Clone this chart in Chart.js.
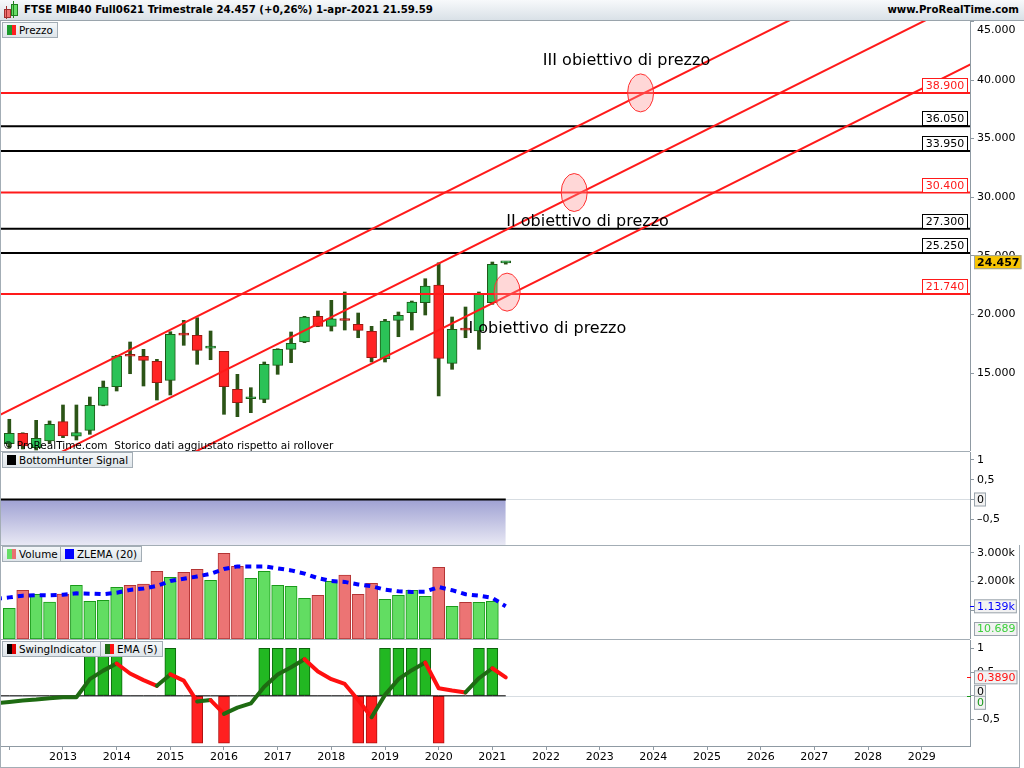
<!DOCTYPE html>
<html>
<head>
<meta charset="utf-8">
<script src="https://cdn.jsdelivr.net/npm/chart.js"></script>
<style>
  body { margin: 0; width: 1024px; height: 768px; overflow: hidden; background: #fff; position: relative; font-family: 'DejaVu Sans', sans-serif; }
  canvas { position: absolute; left: 0; }
  #hdr { position: absolute; left: 0; top: 0; width: 1024px; height: 21px; box-sizing: border-box; border-bottom: 1px solid #9aa4ac;
         background: linear-gradient(#f7f9fb, #d9e1e7); font-size: 10.2px; font-weight: bold; line-height: 20px; }
  #hdr .t { position: absolute; left: 24px; top: 0; }
  #hdr .s { position: absolute; right: 5px; top: 0; }
  .ic { position: absolute; }
  .tag { position: absolute; height: 16px; box-sizing: border-box; border: 1px solid #a3adb5; background: linear-gradient(#f4f7f9, #dfe5ea);
         font-size: 10.4px; line-height: 14px; padding: 0 4px 0 16px; white-space: nowrap; }
  .tag i { position: absolute; left: 4px; top: 2px; width: 9px; height: 10px; }
  .hl { position: absolute; background: #a3adb5; }
  #copy { position: absolute; left: 3px; top: 439px; font-size: 10.5px; color: #000; }
</style>
</head>
<body>
<div id="hdr">
  <span class="ic" style="left:4px;top:9px;width:5px;height:7px;background:#f07070;border:1px solid #a03030"></span>
  <span class="ic" style="left:6px;top:6px;width:1px;height:13px;background:#a03030"></span>
  <span class="ic" style="left:11px;top:4px;width:5px;height:10px;background:#66dd66;border:1px solid #208020"></span>
  <span class="ic" style="left:13px;top:1px;width:1px;height:17px;background:#208020"></span>
  <span class="t">FTSE MIB40 Full0621 Trimestrale 24.457 (+0,26%) 1-apr-2021 21.59.59</span>
  <span class="s">www.ProRealTime.com</span>
</div>

<canvas id="price" width="1024" height="430" style="top:21px"></canvas>
<canvas id="hunter" width="1024" height="93" style="top:452px"></canvas>
<canvas id="vol" width="1024" height="94" style="top:545px"></canvas>
<canvas id="swing" width="1024" height="128" style="top:640px"></canvas>

<div class="hl" style="left:0;top:451px;width:970px;height:1px"></div>
<div class="hl" style="left:0;top:545px;width:970px;height:1px"></div>
<div class="hl" style="left:0;top:639px;width:970px;height:1px"></div>
<div class="hl" style="left:0;top:767px;width:1020px;height:1px"></div>
<div class="hl" style="left:0;top:21px;width:1px;height:747px"></div>
<div class="hl" style="left:1019px;top:545px;width:1px;height:223px"></div>

<div id="copy">© ProRealTime.com&nbsp; Storico dati aggiustato rispetto ai rollover</div>

<div class="tag" style="left:2px;top:22px"><i style="background:linear-gradient(90deg,#1c9a2c 50%,#ff2020 50%)"></i>Prezzo</div>
<div class="tag" style="left:2px;top:452px"><i style="background:#000"></i>BottomHunter Signal</div>
<div class="tag" style="left:2px;top:546px"><i style="background:linear-gradient(90deg,#66dd66 50%,#e87070 50%)"></i>Volume</div>
<div class="tag" style="left:60px;top:546px"><i style="background:#0000ff"></i>ZLEMA (20)</div>
<div class="tag" style="left:2px;top:641px"><i style="background:linear-gradient(90deg,#000 50%,#e00000 50%)"></i>SwingIndicator</div>
<div class="tag" style="left:100px;top:641px"><i style="background:linear-gradient(90deg,#1e6b12 50%,#ff1010 50%)"></i>EMA (5)</div>

<script>
// Trimestrale FTSE MIB future, dal 2012 T1 al 2021 T2
const quarters = [
  '2012 T1', '2012 T2', '2012 T3', '2012 T4', '2013 T1', '2013 T2', '2013 T3', '2013 T4',
  '2014 T1', '2014 T2', '2014 T3', '2014 T4', '2015 T1', '2015 T2', '2015 T3', '2015 T4',
  '2016 T1', '2016 T2', '2016 T3', '2016 T4', '2017 T1', '2017 T2', '2017 T3', '2017 T4',
  '2018 T1', '2018 T2', '2018 T3', '2018 T4', '2019 T1', '2019 T2', '2019 T3', '2019 T4',
  '2020 T1', '2020 T2', '2020 T3', '2020 T4', '2021 T1', '2021 T2',
];
const firstYear = 2012;

const open  = [8968, 9855, 8627, 9198, 10845, 9608, 10111, 12244, 13831, 16480, 16425, 15998, 14377, 18280, 18217, 17120, 16851, 13609, 12800, 12756,
               15657, 17022, 17645, 19838, 18984, 19520, 19155, 18558, 16220, 19496, 20145, 20998, 22508, 15828, 18700, 18583, 20998, 24393];
const high  = [11050, 9900, 10964, 10905, 12270, 12270, 12952, 14317, 16510, 17645, 17022, 16169, 18524, 19496, 19718, 18583, 16851, 14889, 13746, 15939,
               17073, 18498, 19838, 20290, 21203, 21911, 20119, 18984, 19582, 20205, 21143, 23046, 24411, 19778, 20631, 21911, 24471, 24490];
const low   = [8600, 8520, 8430, 9028, 9480, 9284, 9770, 12200, 13464, 14940, 13891, 12696, 13123, 17363, 15742, 16135, 11476, 11272, 11613, 12466,
               14889, 15879, 17585, 18950, 18583, 18669, 18012, 15939, 15939, 18097, 18669, 19949, 13038, 15316, 18012, 17022, 20861, 24290];
const close = [9855, 8772, 9429, 10623, 9625, 9923, 12244, 13806, 16450, 16430, 16084, 14172, 18302, 18230, 16937, 17170, 13831, 12466, 12850, 15742,
               17022, 17534, 19778, 18984, 19633, 19480, 18643, 16305, 19437, 19923, 21058, 22423, 16254, 18728, 18660, 21800, 24274, 24457];

// l'ultimo trimestre e' appena iniziato: il suo volume compare solo nell'etichetta
const volume = [1070000, 1697000, 1557000, 1290000, 1568000, 1871000, 1313000, 1348000, 1801000, 1871000, 1916000, 2358000, 2149000,
                2323000, 2428000, 2044000, 2986000, 2532000, 2114000, 2358000, 1871000, 1836000, 1417000, 1522000, 2009000, 2230000,
                1557000, 1940000, 1383000, 1522000, 1697000, 1487000, 2498000, 1139000, 1278000, 1278000, 1313000, 10689];

// indicatori: il primo valore e' il trimestre 2011 T4, al bordo sinistro
const zlema = [1400000, 1450000, 1510000, 1530000, 1520000, 1545000, 1590000, 1580000, 1560000, 1610000, 1710000, 1760000, 1850000,
               2020000, 2100000, 2180000, 2270000, 2440000, 2530000, 2530000, 2530000, 2460000, 2390000, 2280000, 2120000, 2020000,
               1990000, 1900000, 1840000, 1720000, 1660000, 1640000, 1650000, 1810000, 1700000, 1560000, 1510000, 1430000, 1139000];
const ema5 = [-0.16, -0.13, -0.10, -0.08, -0.05, -0.03, -0.03, 0.35, 0.53, 0.68, 0.47, 0.33, 0.21, 0.45, 0.32, -0.12, -0.09, -0.38, -0.25,
              -0.16, 0.19, 0.45, 0.60, 0.77, 0.51, 0.35, 0.25, -0.09, -0.45, 0.02, 0.35, 0.54, 0.70, 0.16, 0.11, 0.07, 0.37, 0.58, 0.389];
const bottomHunter = [0, 0, 0, 0, 0, 0, 0, 0, 0, 0, 0, 0, 0, 0, 0, 0, 0, 0, 0, 0, 0, 0, 0, 0, 0, 0, 0, 0, 0, 0, 0, 0, 0, 0, 0, 0, 0, 0, 0];
const swing = [0, 0, 0, 0, 0, 0, 1, 1, 1, 0, 0, 0, 1, 0, -1, 0, -1, 0, 0, 1, 1, 1, 1, 0, 0, 0, -1, -1, 1, 1, 1, 1, -1, 0, 0, 1, 1, 0];

// livelli e canale rialzista
const redLevels = [21740, 30400, 38900];
const blackLevels = [25250, 27300, 33950, 36050];
const channelFrom = [11258, 5465, -217];   // prezzo al trimestre -1
const channelTo = [53014, 47221, 41539];   // prezzo al trimestre 72

const targetQuarter = [37.1, 42.1, 47.05];
const targetPrice = [21900, 30400, 38900];
const noteText = ['I obiettivo di prezzo', 'II obiettivo di prezzo', 'III obiettivo di prezzo'];
const noteQuarter = [40.1, 43.1, 46.0];
const notePrice = [18800, 27930, 41660];

const priceTicks = [15000, 20000, 25000, 30000, 35000, 40000, 45000];
const volTicks = [1000000, 2000000, 3000000];
const oscTicks = [1, 0.5, 0, -0.5];

const GREEN = '#2bc257', RED = '#ff2424', WICK = '#2b5416';
const AXIS = '#8f9aa3';

const fmt = (n, d = 0) => {
  const p = Math.abs(n).toFixed(d).split('.');
  p[0] = p[0].replace(/\B(?=(\d{3})+(?!\d))/g, '.');
  return (n < 0 ? '–' : '') + p.join(',');
};

Chart.defaults.font.family = 'DejaVu Sans';
Chart.defaults.font.size = 11;
Chart.defaults.color = '#000';
Chart.defaults.animation = false;
Chart.defaults.events = [];
Chart.defaults.plugins.legend.display = false;
Chart.defaults.plugins.tooltip.enabled = false;

const idx = quarters.map((q, i) => i);
const indIdx = [-1, ...idx];
const up = idx.map((i) => close[i] >= open[i]);
const volIdx = idx.slice(0, -1);

const xAxis = (show) => ({
  type: 'linear', min: -0.62, max: 71.6, display: show, offset: false,
  afterBuildTicks: (s) => { s.ticks = []; for (let v = 0; v <= 68; v += 4) s.ticks.push({ value: v }); },
  afterFit: (s) => { if (show) s.height = 22; },
  grid: { drawOnChartArea: false, offset: false, tickLength: 4, color: AXIS },
  border: { color: AXIS },
  ticks: { padding: 1, callback: (v) => (v < 4 ? '' : String(firstYear + v / 4)) },
});

// gap: i tick troppo vicini al bordo alto li disegna il plugin
const yAxis = (min, max, ticks, label, gap = 0) => ({
  position: 'right', min, max,
  afterFit: (s) => { s.width = 54; s.paddingTop = 0; s.paddingBottom = 0; },
  afterBuildTicks: (s) => { s.ticks = ticks.filter((v) => v >= min && v <= max - gap).map((v) => ({ value: v })); },
  grid: { drawOnChartArea: false, tickLength: 4, color: AXIS },
  border: { color: AXIS },
  ticks: { padding: 3, callback: label },
});

// etichetta a destra dell'asse con valore corrente
function valueTag(ctx, x, y, text, color, bg, bold) {
  ctx.font = (bold ? 'bold ' : '') + '11px "DejaVu Sans"';
  const w = ctx.measureText(text).width + 5;
  ctx.fillStyle = bg;
  ctx.fillRect(x, y - 7, w, 14);
  ctx.strokeStyle = '#9aa4ac';
  ctx.lineWidth = 1;
  ctx.strokeRect(x + 0.5, y - 6.5, w - 1, 13);
  ctx.fillStyle = color;
  ctx.textAlign = 'left';
  ctx.textBaseline = 'middle';
  ctx.fillText(text, x + 3, y + 0.5);
}

const PMIN = 8345, PMAX = 45035, PGAP = 400;

const priceOverlay = {
  id: 'priceOverlay',
  afterDatasetsDraw(chart) {
    const { ctx, chartArea: a, scales: { x, y } } = chart;
    ctx.save();
    targetQuarter.forEach((q, k) => {
      ctx.beginPath();
      ctx.ellipse(x.getPixelForValue(q), y.getPixelForValue(targetPrice[k]), 13, 19, 0, 0, Math.PI * 2);
      ctx.fillStyle = 'rgba(255,140,140,0.35)';
      ctx.fill();
      ctx.strokeStyle = '#ff3030';
      ctx.lineWidth = 1;
      ctx.stroke();
    });
    ctx.font = '16px "DejaVu Sans"';
    ctx.fillStyle = '#000';
    ctx.textAlign = 'center';
    ctx.textBaseline = 'middle';
    noteText.forEach((t, k) => ctx.fillText(t, x.getPixelForValue(noteQuarter[k]), y.getPixelForValue(notePrice[k])));

    const box = (v, col) => {
      const py = Math.round(y.getPixelForValue(v));
      ctx.fillStyle = '#fff';
      ctx.fillRect(a.right - 48, py - 15, 46, 15);
      ctx.strokeStyle = col;
      ctx.lineWidth = 1;
      ctx.strokeRect(a.right - 47.5, py - 14.5, 45, 14);
      ctx.fillStyle = col;
      ctx.font = '11px "DejaVu Sans"';
      ctx.fillText(fmt(v), a.right - 25, py - 7);
    };
    redLevels.forEach((v) => box(v, '#ff1a1a'));
    blackLevels.forEach((v) => box(v, '#000'));
    ctx.restore();
  },
  afterDraw(chart) {
    const { ctx, chartArea: a, scales: { y } } = chart;
    ctx.save();
    priceTicks.filter((v) => v > PMAX - PGAP).forEach((v) => {
      ctx.font = '11px "DejaVu Sans"';
      ctx.fillStyle = '#000';
      ctx.textBaseline = 'middle';
      ctx.fillText(fmt(v), a.right + 7, a.top + 9);
      ctx.fillStyle = AXIS;
      ctx.fillRect(a.right, Math.round(y.getPixelForValue(v)), 4, 1);
    });
    valueTag(ctx, a.right + 4, y.getPixelForValue(close[close.length - 1]), fmt(close[close.length - 1]), '#000', '#f7c400', true);
    ctx.restore();
  },
};

new Chart(document.getElementById('price'), {
  type: 'bar',
  data: {
    datasets: [
      ...channelFrom.map((v, k) => ({
        type: 'line', data: [{ x: -1, y: v }, { x: 72, y: channelTo[k] }],
        borderColor: '#ff1a1a', borderWidth: 2, pointRadius: 0, order: 0,
      })),
      ...redLevels.map((v) => ({
        type: 'line', data: [{ x: -1, y: v }, { x: 72, y: v }],
        borderColor: '#ff1a1a', borderWidth: 2, pointRadius: 0, order: 0,
      })),
      ...blackLevels.map((v) => ({
        type: 'line', data: [{ x: -1, y: v }, { x: 72, y: v }],
        borderColor: '#000', borderWidth: 2, pointRadius: 0, order: 0,
      })),
      {
        data: idx.map((i) => ({ x: i, y: [open[i], close[i]] })),
        backgroundColor: idx.map((i) => (up[i] ? GREEN : RED)),
        borderColor: idx.map((i) => (up[i] ? '#1d5a17' : '#9a1a12')),
        borderWidth: 1, borderSkipped: false, barThickness: 10, minBarLength: 2, grouped: false, order: 1,
      },
      {
        data: idx.map((i) => ({ x: i, y: [low[i], high[i]] })),
        backgroundColor: WICK, borderWidth: 0, barThickness: 3, grouped: false, order: 2,
      },
    ],
  },
  options: {
    responsive: false,
    layout: { padding: { left: 1, top: 0, bottom: 0, right: 0 } },
    scales: { x: xAxis(false), y: yAxis(PMIN, PMAX, priceTicks, (v) => fmt(v), PGAP) },
  },
  plugins: [priceOverlay],
});

// linea dello zero grigia su tutta la larghezza
const zeroLine = {
  id: 'zeroLine',
  beforeDatasetsDraw(chart) {
    const { ctx, chartArea: a, scales: { y } } = chart;
    const py = Math.round(y.getPixelForValue(0)) + 0.5;
    ctx.save();
    ctx.strokeStyle = '#d7dde2';
    ctx.lineWidth = 1;
    ctx.beginPath();
    ctx.moveTo(a.left, py);
    ctx.lineTo(a.right, py);
    ctx.stroke();
    ctx.restore();
  },
};

new Chart(document.getElementById('hunter'), {
  type: 'line',
  data: {
    datasets: [{
      data: indIdx.map((i, k) => ({ x: i, y: bottomHunter[k] })),
      borderColor: '#000', borderWidth: 2, pointRadius: 0, fill: 'start',
      backgroundColor: (c) => {
        const { chart } = c;
        if (!chart.chartArea) return '#c0c0e0';
        const y0 = chart.scales.y.getPixelForValue(0);
        const g = chart.ctx.createLinearGradient(0, y0, 0, chart.chartArea.bottom);
        g.addColorStop(0, '#9fa1d3');
        g.addColorStop(1, '#e8e8f4');
        return g;
      },
    }],
  },
  options: {
    responsive: false,
    layout: { padding: { left: 1, top: 0, bottom: 0, right: 0 } },
    scales: { x: xAxis(false), y: yAxis(-1.15, 1.2, oscTicks, (v) => (v === 0 ? '' : fmt(v, v % 1 ? 1 : 0))) },
  },
  plugins: [zeroLine, {
    id: 'hunterTag',
    afterDraw(chart) {
      const { ctx, chartArea: a, scales: { y } } = chart;
      ctx.save();
      valueTag(ctx, a.right + 4, y.getPixelForValue(bottomHunter[bottomHunter.length - 1]), '0', '#000', '#f2f2f2', false);
      ctx.restore();
    },
  }],
});

new Chart(document.getElementById('vol'), {
  type: 'bar',
  data: {
    datasets: [
      {
        type: 'line', data: indIdx.map((i, k) => ({ x: i, y: zlema[k] })),
        borderColor: '#0000ff', borderWidth: 4, borderDash: [6, 5], pointRadius: 0, order: 0,
      },
      {
        data: volIdx.map((i) => ({ x: i, y: volume[i] })),
        backgroundColor: volIdx.map((i) => (up[i] ? '#62dd62' : '#ec7474')),
        borderColor: volIdx.map((i) => (up[i] ? '#1a9a1a' : '#b43434')),
        borderWidth: 1, borderSkipped: false, barThickness: 12, order: 1,
      },
    ],
  },
  options: {
    responsive: false,
    layout: { padding: { left: 1, top: 0, bottom: 0, right: 0 } },
    scales: { x: xAxis(false), y: yAxis(0, 3275000, volTicks, (v) => fmt(v / 1000) + 'k') },
  },
  plugins: [{
    id: 'volTags',
    afterDraw(chart) {
      const { ctx, chartArea: a, scales: { y } } = chart;
      ctx.save();
      const zy = y.getPixelForValue(zlema[zlema.length - 1]);
      ctx.fillStyle = '#0000ff';
      ctx.fillRect(a.right, Math.round(zy), 4, 1);
      valueTag(ctx, a.right + 4, zy, fmt(zlema[zlema.length - 1] / 1000) + 'k', '#0000ff', '#f2f2f2', false);
      const vy = Math.min(y.getPixelForValue(volume[volume.length - 1]), a.bottom - 10);
      valueTag(ctx, a.right + 4, vy, fmt(volume[volume.length - 1]), '#3ccf3c', '#f2f2f2', false);
      ctx.restore();
    },
  }],
});

new Chart(document.getElementById('swing'), {
  type: 'bar',
  data: {
    datasets: [
      {
        type: 'line', data: indIdx.map((i, k) => ({ x: i, y: ema5[k] })),
        borderWidth: 4, pointRadius: 0, order: 0, borderCapStyle: 'round', borderJoinStyle: 'round',
        borderColor: '#1e6b12',
        segment: { borderColor: (s) => (s.p1.parsed.y >= s.p0.parsed.y ? '#1e6b12' : '#ff1010') },
      },
      {
        type: 'line', data: indIdx.map((i) => ({ x: i, y: 0 })),
        borderColor: '#000', borderWidth: 1, pointRadius: 0, order: 1,
      },
      {
        data: idx.map((i) => ({ x: i, y: swing[i] })),
        backgroundColor: idx.map((i) => (swing[i] > 0 ? '#22b822' : '#ff2020')),
        borderColor: idx.map((i) => (swing[i] > 0 ? '#0b650b' : '#b01010')),
        borderWidth: 1, borderSkipped: false, barThickness: 11, order: 2,
      },
    ],
  },
  options: {
    responsive: false,
    layout: { padding: { left: 1, top: 0, bottom: 0, right: 0 } },
    scales: { x: xAxis(true), y: yAxis(-1.057, 1.175, oscTicks, (v) => (v === 0 ? '' : fmt(v, v % 1 ? 1 : 0))) },
  },
  plugins: [zeroLine, {
    id: 'swingTags',
    afterDraw(chart) {
      const { ctx, chartArea: a, scales: { y } } = chart;
      ctx.save();
      const e = ema5[ema5.length - 1];
      const ey = y.getPixelForValue(e);
      const y0 = y.getPixelForValue(0);
      ctx.fillStyle = '#ff1010';
      ctx.fillRect(a.right - 3, Math.round(ey), 4, 1);
      ctx.fillStyle = '#1a9a1a';
      ctx.fillRect(a.right - 3, Math.round(y0), 4, 1);
      valueTag(ctx, a.right + 4, ey, fmt(e, 4), '#ff1010', '#f2f2f2', false);
      valueTag(ctx, a.right + 4, y0 - 4, '0', '#000', '#f2f2f2', false);
      valueTag(ctx, a.right + 4, y0 + 7, '0', '#1a9a1a', '#f2f2f2', false);
      ctx.restore();
    },
  }],
});
</script>
</body>
</html>
